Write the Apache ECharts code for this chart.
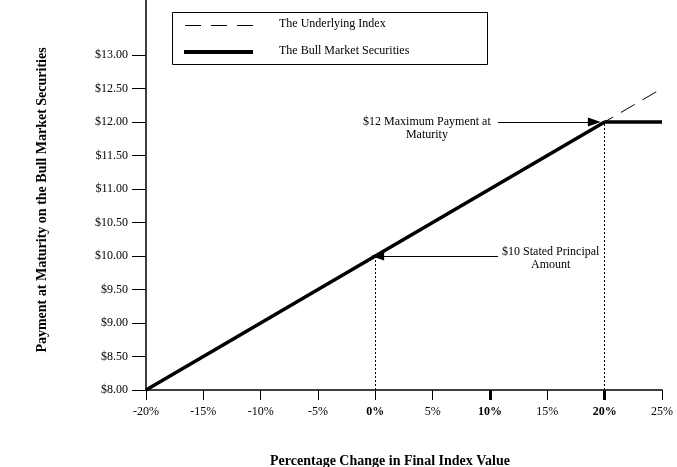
<!DOCTYPE html>
<html><head><meta charset="utf-8">
<script src="https://cdn.jsdelivr.net/npm/echarts@6/dist/echarts.min.js"></script>
<style>html,body{margin:0;padding:0;background:#fff}#c{width:677px;height:467px}</style>
</head><body><div id="c"></div>
<script>
const xTicks = [-20, -15, -10, -5, 0, 5, 10, 15, 20, 25];
const boldXLabels = [0, 10, 20];
const boldXTicks = [10, 20];
const yTicks = [8, 8.5, 9, 9.5, 10, 10.5, 11, 11.5, 12, 12.5, 13];
const seriesNames = ['The Underlying Index', 'The Bull Market Securities'];
const indexX = [-20, 25];
const indexY = [8, 12.5];
const bullX = [-20, 20, 25];
const bullY = [8, 12, 12];
const principal = [0, 10];
const capPoint = [20, 12];
const capArrowFrom = [10.7, 12];
const capArrowTo = [19.1, 12];
const principalArrowFrom = [10.7, 10];
const principalArrowTo = [0.2, 10];
const capText = '$12 Maximum Payment at\nMaturity';
const capTextAt = [4.5, 12];
const principalText = '$10 Stated Principal\nAmount';
const principalTextAt = [15.3, 10];
const yTitle = 'Payment at Maturity on the Bull Market Securities';
const xTitle = 'Percentage Change in Final Index Value';

const SERIF = "'Liberation Serif','Times New Roman',serif";
const chart = echarts.init(document.getElementById('c'));

function zip(a, b) { return a.map((v, i) => [v, b[i]]); }

chart.setOption({
  animation: false,
  backgroundColor: '#fff',
  textStyle: { fontFamily: SERIF, color: '#000' },
  grid: { left: 146, right: 15, top: 0, bottom: 77 },
  xAxis: [{
    type: 'value', min: -20, max: 25, interval: 5,
    splitLine: { show: false },
    axisLine: { show: true, onZero: false, lineStyle: { color: '#000', width: 1.5 } },
    axisTick: { show: true, length: 10, lineStyle: { color: '#000', width: 1 } },
    axisLabel: {
      margin: 16, fontSize: 12, fontFamily: SERIF, color: '#000',
      customValues: xTicks,
      formatter: v => boldXLabels.includes(v) ? '{b|' + v + '%}' : v + '%',
      rich: { b: { fontWeight: 'bold', fontSize: 12, fontFamily: SERIF, color: '#000' } }
    }
  }, {
    type: 'value', min: -20, max: 25, position: 'bottom', offset: 0,
    splitLine: { show: false },
    axisLine: { show: false },
    axisTick: { show: true, length: 10, customValues: boldXTicks, lineStyle: { color: '#000', width: 3 } },
    axisLabel: { show: false }
  }],
  yAxis: {
    type: 'value', min: 8, max: 13.82,
    splitLine: { show: false },
    axisLine: { show: true, onZero: false, lineStyle: { color: '#000', width: 1.5 } },
    axisTick: { show: true, length: 14, customValues: yTicks, lineStyle: { color: '#000', width: 1 } },
    axisLabel: {
      margin: 18, fontSize: 12, fontFamily: SERIF, color: '#000',
      customValues: yTicks,
      formatter: v => '$' + v.toFixed(2)
    }
  },
  series: [{
    name: seriesNames[0], type: 'line', showSymbol: false, symbol: 'none',
    data: zip(indexX, indexY),
    lineStyle: { color: '#000', width: 1, type: [16, 9] },
    itemStyle: { color: '#000' }, z: 2
  }, {
    name: seriesNames[1], type: 'line', showSymbol: false, symbol: 'none',
    data: zip(bullX, bullY),
    lineStyle: { color: '#000', width: 3.5 },
    itemStyle: { color: '#000' }, z: 3
  }, {
    name: 'annot', type: 'line', data: [], z: 1,
    markLine: {
      silent: true, animation: false,
      label: { show: false },
      data: [
        [{ coord: [principal[0], 8], symbol: 'none', lineStyle: { type: [2, 2], width: 1, color: '#000' } },
         { coord: principal, symbol: 'none' }],
        [{ coord: [capPoint[0], 8], symbol: 'none', lineStyle: { type: [2, 2], width: 1, color: '#000' } },
         { coord: capPoint, symbol: 'none' }],
        [{ coord: capArrowFrom, symbol: 'none', lineStyle: { type: 'solid', width: 1, color: '#000' } },
         { coord: capArrowTo, symbol: 'triangle', symbolSize: [9, 13] }],
        [{ coord: principalArrowFrom, symbol: 'none', lineStyle: { type: 'solid', width: 1, color: '#000' } },
         { coord: principalArrowTo, symbol: 'triangle', symbolSize: [9, 13] }]
      ],
      itemStyle: { color: '#000' }
    }
  }]
});

const p1 = chart.convertToPixel({ gridIndex: 0 }, capTextAt);
const p2 = chart.convertToPixel({ gridIndex: 0 }, principalTextAt);
const txt = (p, t, dy) => ({
  type: 'text', x: p[0], y: p[1] + dy,
  style: { text: t, fontFamily: SERIF, fontSize: 12, fill: '#000', align: 'center', verticalAlign: 'middle', lineHeight: 13 }
});
const legText = (t, y) => ({
  type: 'text', x: 279, y: y, z: 11,
  style: { text: t, fontFamily: SERIF, fontSize: 12, fill: '#000', align: 'left', verticalAlign: 'middle' }
});
chart.setOption({
  graphic: [
    txt(p1, capText, 6),
    txt(p2, principalText, 2),
    { type: 'rect', shape: { x: 172.5, y: 12.5, width: 315, height: 52 },
      style: { fill: '#fff', stroke: '#000', lineWidth: 1 }, z: 10 },
    { type: 'line', shape: { x1: 185, y1: 25.5, x2: 253, y2: 25.5 },
      style: { stroke: '#000', lineWidth: 1, lineDash: [16, 10] }, z: 11 },
    { type: 'line', shape: { x1: 184, y1: 52, x2: 253, y2: 52 },
      style: { stroke: '#000', lineWidth: 4 }, z: 11 },
    legText(seriesNames[0], 24),
    legText(seriesNames[1], 51),
    { type: 'text', x: 42, y: 200, rotation: Math.PI / 2,
      style: { text: yTitle, fontFamily: SERIF, fontSize: 14, fontWeight: 'bold', fill: '#000', align: 'center', verticalAlign: 'middle' } },
    { type: 'text', x: 390, y: 461,
      style: { text: xTitle, fontFamily: SERIF, fontSize: 14, fontWeight: 'bold', fill: '#000', align: 'center', verticalAlign: 'middle' } }
  ]
});
</script></body></html>
